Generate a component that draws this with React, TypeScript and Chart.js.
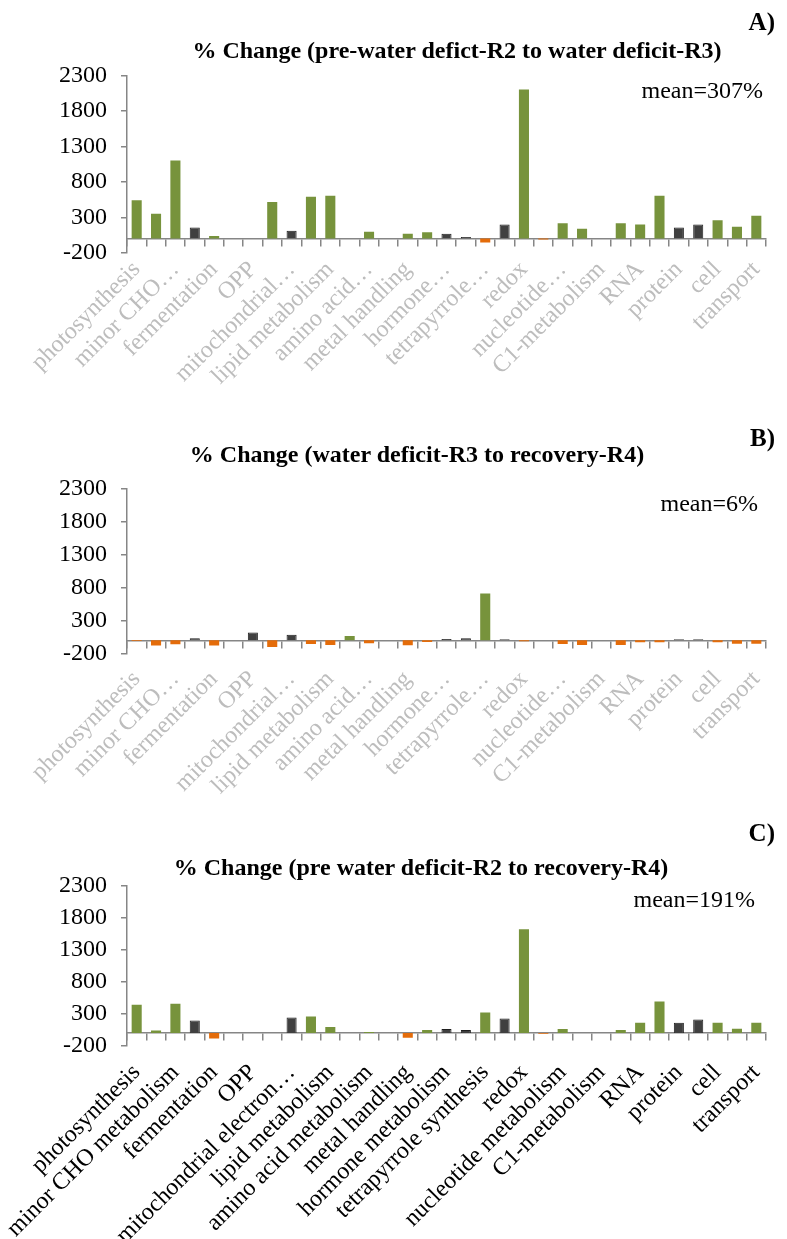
import React, { useEffect, useRef } from 'react';
import { Chart, registerables } from 'chart.js';

Chart.register(...registerables);

// ---------------- DATA ----------------
const categories = [
  'photosynthesis', 'major CHO metabolism', 'minor CHO metabolism', 'glycolysis', 'fermentation',
  'gluconeogenesis', 'OPP', 'TCA', 'mitochondrial electron transport', 'cell wall',
  'lipid metabolism', 'N-metabolism', 'amino acid metabolism', 'S-assimilation', 'metal handling',
  'secondary metabolism', 'hormone metabolism', 'Co-factor and vitamine metabolism', 'tetrapyrrole synthesis', 'stress',
  'redox', 'polyamine metabolism', 'nucleotide metabolism', 'biodegradation of Xenobiotics', 'C1-metabolism',
  'misc', 'RNA', 'DNA', 'protein', 'signalling',
  'cell', 'development', 'transport',
];

// tick labels shown on every other category (index 0, 2, 4, ...)
const tickLabelsAB = [
  'photosynthesis', 'minor CHO…', 'fermentation', 'OPP', 'mitochondrial…', 'lipid metabolism',
  'amino acid…', 'metal handling', 'hormone…', 'tetrapyrrole…', 'redox', 'nucleotide…',
  'C1-metabolism', 'RNA', 'protein', 'cell', 'transport',
];
const tickLabelsC = [
  'photosynthesis', 'minor CHO metabolism', 'fermentation', 'OPP', 'mitochondrial electron…',
  'lipid metabolism', 'amino acid metabolism', 'metal handling', 'hormone metabolism',
  'tetrapyrrole synthesis', 'redox', 'nucleotide metabolism', 'C1-metabolism', 'RNA', 'protein',
  'cell', 'transport',
];

const valuesA = [540, 350, 1100, 155, 35, 0, 0, 515, 110, 590, 605, 0, 95, 0, 70, 88, 70, 22, -55, 200,
  2100, -12, 215, 140, 0, 215, 200, 605, 155, 200, 257, 168, 323];
const valuesB = [-10, -80, -60, 33, -80, 0, 120, -100, 85, -55, -70, 65, -45, 0, -75, -25, 20, 30, 710, 15,
  -12, 0, -55, -70, 0, -70, -28, -30, 18, 18, -28, -50, -50];
const valuesC = [440, 40, 455, 195, -85, 0, 0, 0, 240, 258, 95, 0, 15, 0, -75, 45, 62, 47, 320, 225,
  1620, -10, 62, 0, 0, 45, 160, 490, 160, 210, 160, 65, 160];

const darkCategories = ['glycolysis', 'OPP', 'mitochondrial electron transport', 'hormone metabolism',
  'Co-factor and vitamine metabolism', 'stress', 'protein', 'signalling'];

const yTicks = [-200, 300, 800, 1300, 1800, 2300];

const titleA = '% Change (pre-water defict-R2 to water deficit-R3)';
const titleB = '% Change (water deficit-R3 to recovery-R4)';
const titleC = '% Change (pre water deficit-R2 to recovery-R4)';
const meanA = 'mean=307%';
const meanB = 'mean=6%';
const meanC = 'mean=191%';

// ---------------- STYLE ----------------
const SERIF = "'Liberation Serif', 'Times New Roman', serif";
const GREEN = '#77933C';
const DARK = '#404040';
const ORANGE = '#E46C0A';
const AXIS = '#868686';
const W = 787;

type PanelProps = {
  top: number; height: number; values: number[]; tickLabels: string[]; labelColor: string;
  title: string; titleX: number; titleCenter: number; areaTop: number; areaBottom: number; labelPad: number;
  tag: string; tagCenter: number; mean: string; meanCenter: number; meanRight: number;
};

function Panel(p: PanelProps) {
  const ref = useRef<HTMLCanvasElement | null>(null);
  useEffect(() => {
    if (!ref.current) return;
    const isDark = (i: number) => darkCategories.includes(categories[i]) && p.values[i] > 0;
    const chart = new Chart(ref.current, {
      type: 'bar',
      data: {
        labels: categories,
        datasets: [{
          data: p.values,
          backgroundColor: (ctx: any) => {
            const v = p.values[ctx.dataIndex];
            if (v < 0) return ORANGE;
            return isDark(ctx.dataIndex) ? DARK : GREEN;
          },
          borderColor: (ctx: any) => (isDark(ctx.dataIndex) ? '#1e1e1e' : 'rgba(0,0,0,0)'),
          borderWidth: (ctx: any) => (isDark(ctx.dataIndex) ? 1 : 0),
          barPercentage: 0.52,
          categoryPercentage: 1,
        }],
      },
      options: {
        responsive: false,
        animation: false,
        devicePixelRatio: 1,
        layout: { padding: { left: 0, right: 21, top: p.areaTop, bottom: 0 } },
        plugins: {
          legend: { display: false },
          tooltip: { enabled: false },
          title: { display: false },
        },
        scales: {
          x: {
            type: 'category',
            position: 'bottom',
            grid: { display: false, drawTicks: false },
            border: { display: false },
            ticks: {
              autoSkip: false,
              minRotation: 45,
              maxRotation: 45,
              padding: p.labelPad,
              color: p.labelColor,
              font: { family: SERIF, size: 24, lineHeight: 0.7 },
              callback: (_v: any, i: number) => (i % 2 === 0 ? p.tickLabels[i / 2] : ''),
            },
            afterFit: (s: any) => { s.height = p.height - p.areaBottom; },
          },
          x2: {
            type: 'category',
            position: { y: 0 },
            offset: true,
            ticks: { display: false },
            grid: { offset: true, drawOnChartArea: false, drawTicks: true, tickLength: 7, color: AXIS, lineWidth: 1.5 },
            border: { display: true, color: AXIS, width: 1.5 },
          },
          y: {
            min: -200,
            max: 2300,
            afterBuildTicks: (s: any) => { s.ticks = yTicks.map((v) => ({ value: v })); },
            ticks: {
              color: '#000',
              padding: 14,
              font: { family: SERIF, size: 24 },
              callback: (v: any) => String(v),
            },
            grid: { drawOnChartArea: false, drawTicks: true, tickLength: 6, color: AXIS, lineWidth: 1.5 },
            border: { display: true, color: AXIS, width: 1.5 },
            afterFit: (s: any) => { s.width = 127; },
          },
        },
      } as any,
    });
    return () => chart.destroy();
  }, []);

  const text = { position: 'absolute' as const, fontFamily: SERIF, lineHeight: 1, color: '#000', whiteSpace: 'nowrap' as const };
  return (
    <div style={{ position: 'absolute', left: 0, top: p.top, width: W, height: p.height }}>
      <canvas ref={ref} width={W} height={p.height} style={{ display: 'block', width: W, height: p.height }} />
      <div style={{ ...text, left: p.titleX, top: p.titleCenter, transform: 'translate(-50%, -50%)', fontWeight: 'bold', fontSize: 24 }}>{p.title}</div>
      <div style={{ ...text, right: 12, top: p.tagCenter, transform: 'translateY(-50%)', fontWeight: 'bold', fontSize: 25 }}>{p.tag}</div>
      <div style={{ ...text, right: p.meanRight, top: p.meanCenter, transform: 'translateY(-50%)', fontSize: 24 }}>{p.mean}</div>
    </div>
  );
}

export default function App() {
  return (
    <div style={{ position: 'absolute', left: 0, top: 0, width: W, height: 1239, overflow: 'hidden', background: '#fff' }}>
      <Panel top={0} height={410} values={valuesA} tickLabels={tickLabelsAB} labelColor="#bdbdbd"
        title={titleA} titleX={457} titleCenter={49.5} areaTop={75.3} areaBottom={252.8} labelPad={7}
        tag="A)" tagCenter={20.5} mean={meanA} meanCenter={90} meanRight={24} />
      <Panel top={410} height={390} values={valuesB} tickLabels={tickLabelsAB} labelColor="#bdbdbd"
        title={titleB} titleX={417} titleCenter={44.3} areaTop={79} areaBottom={243.5} labelPad={16}
        tag="B)" tagCenter={26.7} mean={meanB} meanCenter={92.7} meanRight={29} />
      <Panel top={800} height={439} values={valuesC} tickLabels={tickLabelsC} labelColor="#000"
        title={titleC} titleX={421} titleCenter={66.7} areaTop={85.7} areaBottom={245.8} labelPad={17}
        tag="C)" tagCenter={32.3} mean={meanC} meanCenter={99} meanRight={32} />
    </div>
  );
}
